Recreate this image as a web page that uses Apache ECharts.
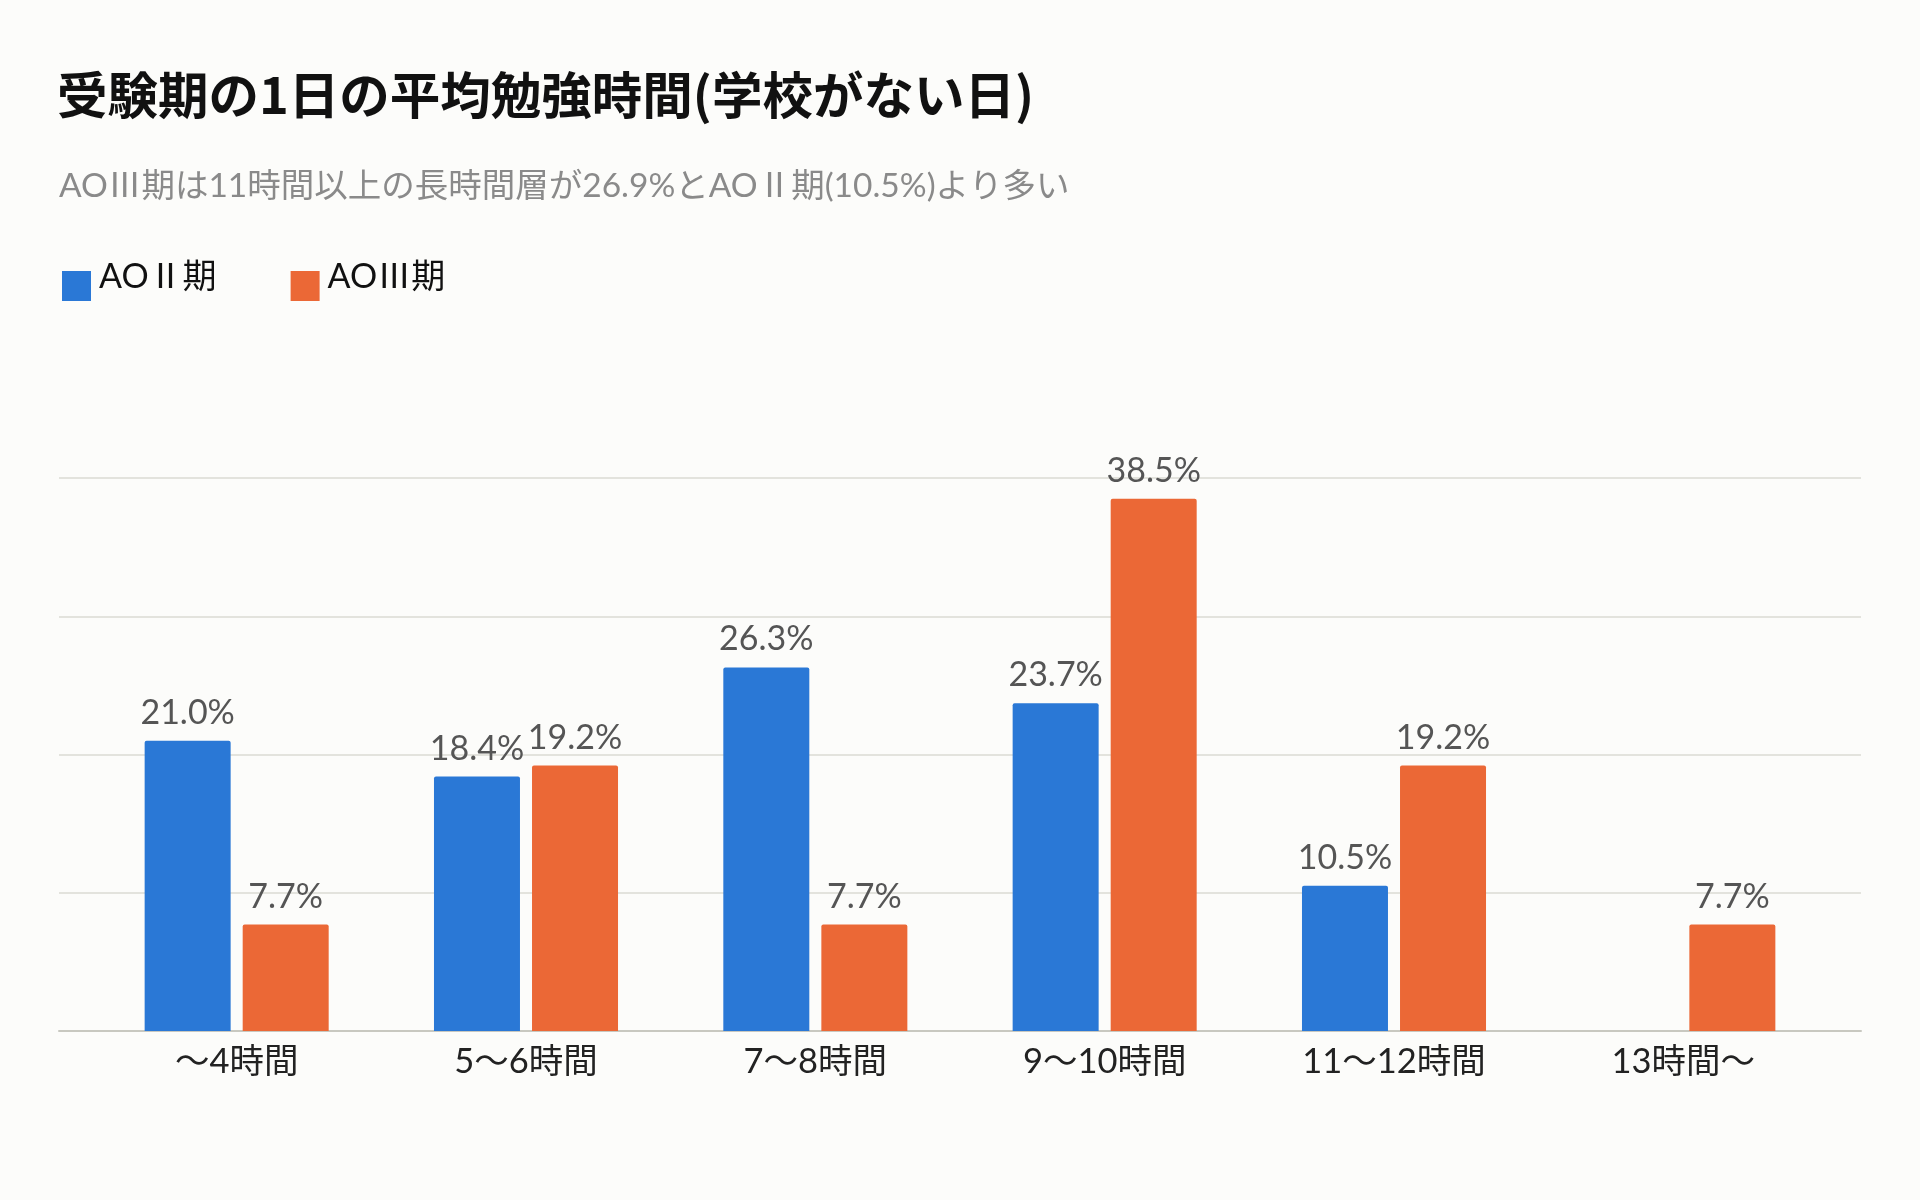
<!DOCTYPE html>
<html>
<head>
<meta charset="utf-8">
<style>
html,body{margin:0;padding:0;background:#fcfcfa;}
#chart{width:1920px;height:1200px;}
</style>
<script src="https://cdn.jsdelivr.net/npm/echarts@6/dist/echarts.min.js"></script>
</head>
<body>
<div id="chart"></div>
<script>
const titleText = '受験期の1日の平均勉強時間(学校がない日)';
const subtitleText = 'AOⅢ期は11時間以上の長時間層が26.9%とAOⅡ期(10.5%)より多い';
const categories = ['〜4時間', '5〜6時間', '7〜8時間', '9〜10時間', '11〜12時間', '13時間〜'];
const seriesNames = ['AOⅡ期', 'AOⅢ期'];
const aoIIValues = [21.0, 18.4, 26.3, 23.7, 10.5, null];
const aoIIIValues = [7.7, 19.2, 7.7, 38.5, 19.2, 7.7];
const yTicks = [0, 10, 20, 30, 40];

const CJK = '"Noto Sans CJK JP", "Noto Sans", sans-serif';
const MIX = 'Lato, "Noto Sans CJK JP", sans-serif';
const chart = echarts.init(document.getElementById('chart'), null, {renderer: 'canvas'});

const labelOpt = {
  show: true,
  position: 'top',
  distance: 11,
  color: '#555',
  fontSize: 34,
  fontFamily: MIX,
  formatter: p => (p.value == null ? '' : Number(p.value).toFixed(1) + '%')
};

chart.setOption({
  backgroundColor: '#fcfcfa',
  textStyle: {fontFamily: MIX},
  title: [
    {text: titleText, left: 52, top: 65,
     textStyle: {fontSize: 50.5, fontWeight: 'bold', color: '#111', fontFamily: CJK}},
    {text: subtitleText, left: 54, top: 164,
     textStyle: {fontSize: 33.5, fontWeight: 'normal', color: '#8a8a8a', fontFamily: MIX}}
  ],
  legend: {
    left: 57, top: 255,
    itemWidth: 29, itemHeight: 30, itemGap: 74,
    icon: 'rect',
    data: seriesNames,
    formatter: name => '{t|' + name + '}{s|}',
    textStyle: {
      fontSize: 34, color: '#111', fontFamily: MIX, padding: [0, 0, 0, 3],
      rich: {
        t: {fontSize: 34, color: '#111', fontFamily: MIX, verticalAlign: 'top', lineHeight: 40},
        s: {width: 0, height: 52}
      }
    }
  },
  grid: [
    {left: 59, right: 59, top: 478, bottom: 169},
    {left: 92, width: 1736, top: 478, bottom: 169}
  ],
  xAxis: [
    {type: 'value', gridIndex: 0, min: 0, max: 1,
     axisLine: {show: true, lineStyle: {color: '#c8c8c0', width: 2}},
     axisTick: {show: false}, axisLabel: {show: false}, splitLine: {show: false}},
    {type: 'category', gridIndex: 1, data: categories,
     axisLine: {show: false}, axisTick: {show: false},
     axisLabel: {fontSize: 34.5, color: '#222', margin: 14, fontFamily: MIX}}
  ],
  yAxis: [
    {type: 'value', gridIndex: 0, min: yTicks[0], max: yTicks[yTicks.length - 1], interval: 10,
     axisLine: {show: false}, axisTick: {show: false}, axisLabel: {show: false},
     splitLine: {show: true, lineStyle: {color: '#e3e3dd', width: 2}}},
    {type: 'value', gridIndex: 1, min: yTicks[0], max: yTicks[yTicks.length - 1], interval: 10,
     show: false, splitLine: {show: false}}
  ],
  series: [
    {name: seriesNames[0], type: 'bar', xAxisIndex: 1, yAxisIndex: 1,
     data: aoIIValues, barWidth: 86, barGap: '14%',
     itemStyle: {color: '#2a78d6', borderRadius: [2, 2, 0, 0]},
     label: labelOpt},
    {name: seriesNames[1], type: 'bar', xAxisIndex: 1, yAxisIndex: 1,
     data: aoIIIValues, barWidth: 86, barGap: '14%',
     itemStyle: {color: '#eb6836', borderRadius: [2, 2, 0, 0]},
     label: labelOpt}
  ]
});
</script>
</body>
</html>
